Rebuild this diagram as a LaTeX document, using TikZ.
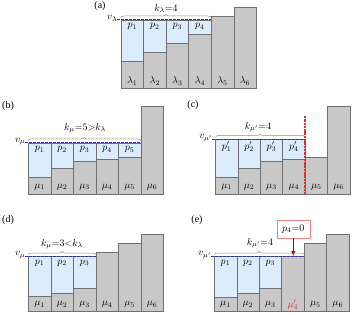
\documentclass[tikz,border=0pt]{standalone}
\usepackage{amsmath,amssymb}
\usepackage{fontspec}
\setmainfont{Liberation Serif}
\usepackage{xcolor}
\usepackage{tikz}
\usetikzlibrary{arrows.meta, positioning, calc, decorations.pathreplacing}

\definecolor{wetblue}{RGB}{221,236,252}
\definecolor{drygray}{RGB}{200,200,200}
\definecolor{edgegray}{RGB}{112,112,112}
\definecolor{bracegray}{RGB}{140,140,140}
\definecolor{levelblue}{RGB}{45,45,205}
\definecolor{cutred}{RGB}{225,45,45}
\definecolor{dropred}{RGB}{175,10,10}

\begin{document}
\begin{tikzpicture}[x=1pt, y=-1pt,
    wet/.style={fill=wetblue, draw=edgegray, line width=0.5pt},
    dry/.style={fill=drygray, draw=edgegray, line width=0.5pt},
    level/.style={draw=levelblue, line width=1pt, dash pattern=on 2.5pt off 1.5pt},
    cbrace/.style={draw=bracegray, line width=0.5pt, decorate, decoration={brace, amplitude=3pt}},
    cutline/.style={draw=cutred, line width=1.4pt, dash pattern=on 2.5pt off 0.8pt},
    lab/.style={inner sep=0pt},
    vlab/.style={anchor=east, inner sep=0.5pt},
    zerobox/.style={draw=cutred!60, fill=white, line width=0.6pt, minimum width=33pt, minimum height=18pt, inner sep=2pt},
    drop/.style={draw=dropred, line width=1.3pt, -{Latex[length=5pt, width=4.5pt]}}
]
    \useasboundingbox (0,0) rectangle (353,315);

    % (a) levels lambda
    \node[lab] (taga) at (100,6) {(a)};
    \foreach \t [count=\i] in {61,52,43,34,16,7} {
        \pgfmathsetmacro\xl{121+22.55*(\i-1)}
        \ifnum\i<5
            \filldraw[wet] (\xl,20) rectangle (\xl+22.55,\t);
            \node[lab] (pa\i) at (\xl+11.3,26.5) {$p_{\i}$};
        \fi
        \filldraw[dry] (\xl,\t) rectangle (\xl+22.55,88);
        \node[lab] (la\i) at (\xl+11.3,81) {$\lambda_{\i}$};
    }
    \draw[level] (117,20) -- (211.2,20);
    \node[vlab] (va) at (118,18.5) {$v_{\lambda}$};
    \draw[cbrace] (121,17.5) -- (211.2,17.5);
    \node[lab] (ka) at (166,8.5) {$k_{\lambda}{=}4$};

    % (b) levels mu, five filled
    \node[lab] (tagb) at (8,106) {(b)};
    \foreach \t [count=\i] in {177,168,161,159,157,106} {
        \pgfmathsetmacro\xl{28.3+22.5*(\i-1)}
        \ifnum\i<6
            \filldraw[wet] (\xl,143) rectangle (\xl+22.5,\t);
            \node[lab] (pb\i) at (\xl+11.25,149.5) {$p_{\i}$};
        \fi
        \filldraw[dry] (\xl,\t) rectangle (\xl+22.5,194);
        \node[lab] (mb\i) at (\xl+11.25,187) {$\mu_{\i}$};
    }
    \draw[level] (25,143) -- (140.8,143);
    \node[vlab] (vb) at (26,141.5) {$v_{\mu}$};
    \draw[cbrace] (28.3,140.5) -- (140.8,140.5);
    \node[lab] (kb) at (85,128) {$k_{\mu}{=}5{>}k_{\lambda}$};

    % (c) cut after four
    \node[lab] (tagc) at (193,105) {(c)};
    \foreach \t [count=\i] in {177,168,161,159,157,106} {
        \pgfmathsetmacro\xl{215.5+22.4*(\i-1)}
        \ifnum\i<5
            \filldraw[wet] (\xl,139.5) rectangle (\xl+22.4,\t);
            \node[lab] (pc\i) at (\xl+11.2,146.5) {$p'_{\i}$};
        \fi
        \filldraw[dry] (\xl,\t) rectangle (\xl+22.4,194);
        \node[lab] (mc\i) at (\xl+11.2,187) {$\mu_{\i}$};
    }
    \draw[level] (212,139.5) -- (305.1,139.5);
    \node[vlab] (vc) at (213,138) {$v_{\mu'}$};
    \draw[cbrace] (215.5,137) -- (305.1,137);
    \node[lab] (kc) at (258,127) {$k_{\mu'}{=}4$};
    \draw[cutline] (305.1,116) -- (305.1,194);

    % (d) three filled
    \node[lab] (tagd) at (8,220) {(d)};
    \foreach \t [count=\i] in {296.7,293.3,288.3,252.3,243.3,234.3} {
        \pgfmathsetmacro\xl{28.3+22.5*(\i-1)}
        \ifnum\i<4
            \filldraw[wet] (\xl,256.7) rectangle (\xl+22.5,\t);
            \node[lab] (pd\i) at (\xl+11.25,263) {$p_{\i}$};
        \fi
        \filldraw[dry] (\xl,\t) rectangle (\xl+22.5,311.7);
        \node[lab] (md\i) at (\xl+11.25,304.5) {$\mu_{\i}$};
    }
    \draw[level] (25,256.7) -- (95.8,256.7);
    \node[vlab] (vd) at (26,255) {$v_{\mu}$};
    \draw[cbrace] (28.3,254.5) -- (95.8,254.5);
    \node[lab] (kd) at (62,244) {$k_{\mu}{=}3{<}k_{\lambda}$};

    % (e) fourth level raised to water
    \node[lab] (tage) at (197,220) {(e)};
    \foreach \t [count=\i] in {297.3,293.3,288.3,256.7,243.3,234.3} {
        \pgfmathsetmacro\xl{214.3+22.45*(\i-1)}
        \ifnum\i<4
            \filldraw[wet] (\xl,256.7) rectangle (\xl+22.45,\t);
            \node[lab] (pe\i) at (\xl+11.2,263) {$p_{\i}$};
        \fi
        \filldraw[dry] (\xl,\t) rectangle (\xl+22.45,311.7);
        \ifnum\i=4
            \node[lab, text=cutred] (me\i) at (\xl+11.2,304.5) {$\mu'_{4}$};
        \else
            \node[lab] (me\i) at (\xl+11.2,304.5) {$\mu_{\i}$};
        \fi
    }
    \draw[level] (211,256.7) -- (304.1,256.7);
    \node[vlab] (ve) at (212,255) {$v_{\mu'}$};
    \draw[cbrace] (214.3,254.5) -- (304.1,254.5);
    \node[lab] (ke) at (260,243.3) {$k_{\mu'}{=}4$};
    \node[zerobox] (pz) at (293.3,229) {$p_4{=}0$};
    \coordinate (hit) at (293.3,256);
    \draw[drop] (pz) -- (hit);
\end{tikzpicture}
\end{document}
